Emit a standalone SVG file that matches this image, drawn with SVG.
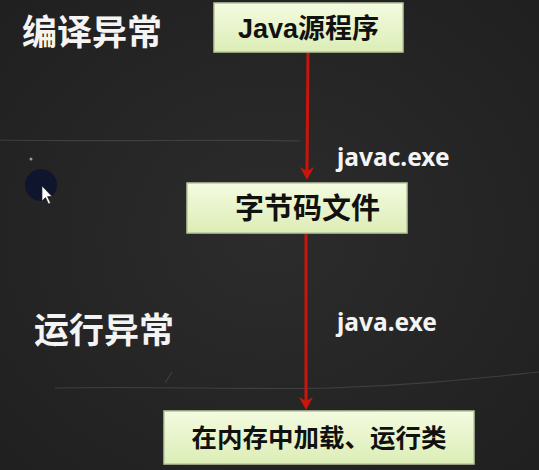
<svg xmlns="http://www.w3.org/2000/svg" width="539" height="470" viewBox="0 0 539 470">
<defs>
<linearGradient id="boxg" x1="0" y1="0" x2="0" y2="1">
<stop offset="0" stop-color="#f4fbe0"/>
<stop offset="1" stop-color="#dcedb6"/>
</linearGradient>
<radialGradient id="bgg" cx="0.5" cy="0.5" r="0.75">
<stop offset="0" stop-color="#2c2c2c"/>
<stop offset="1" stop-color="#1f1f1f"/>
</radialGradient>
<style>
.box{fill:url(#boxg);stroke:#b9c7a0;stroke-width:1.5}
.bt{font-family:"Liberation Sans","Noto Sans CJK SC",sans-serif;font-weight:bold;fill:#111;text-anchor:middle}
.wt{font-family:"Noto Sans","Noto Sans CJK SC",sans-serif;font-weight:bold;fill:#f4f4f4}
.conn{stroke:#c8160c;stroke-width:3;fill:none}
.head{fill:#c8160c}
.chalk{stroke:#4a4a4a;stroke-width:1.2;fill:none;opacity:0.7}
</style>
</defs>
<rect width="539" height="470" fill="url(#bgg)"/>
<path class="chalk" d="M55,388 C150,386 250,390 330,388 C420,385 480,378 539,372"/>
<path class="chalk" d="M165,383 L172,372"/>
<path class="chalk" d="M0,140 C120,142 220,139 300,141" opacity="0.35"/>
<circle cx="41" cy="185" r="16" fill="#0d1330" opacity="0.85"/>
<path d="M42,186 L42,201 L45.5,197.5 L48.5,204 L50.5,203 L47.5,196.5 L52,196.5 Z" fill="#ffffff" stroke="#222" stroke-width="0.6"/>
<circle cx="31" cy="159" r="1.5" fill="#cfcfcf" opacity="0.7"/>

<g id="connectors">
<line class="conn" x1="308" y1="53" x2="307" y2="172"/>
<path class="head" d="M300,167 L307,180 L314,167 L307,171 Z"/>
<line class="conn" x1="306" y1="234" x2="306" y2="402"/>
<path class="head" d="M299,397 L306,410 L313,397 L306,401 Z"/>
</g>

<g id="label-compile">
<text class="wt" x="22" y="45" font-size="35">编译异常</text>
</g>
<g id="label-run">
<text class="wt" x="34" y="343" font-size="35">运行异常</text>
</g>
<g id="label-javac">
<text class="wt" x="337" y="166" font-size="24.5">javac.exe</text>
</g>
<g id="label-java">
<text class="wt" x="337" y="331" font-size="24.5">java.exe</text>
</g>

<g id="node-source">
<rect class="box" x="214" y="3" width="189" height="49"/>
<text class="bt" x="308.5" y="38" font-size="27">Java源程序</text>
</g>
<g id="node-bytecode">
<rect class="box" x="187" y="183" width="220" height="50"/>
<text class="bt" x="307.5" y="219" font-size="29">字节码文件</text>
</g>
<g id="node-run">
<rect class="box" x="164" y="411" width="310" height="53"/>
<text class="bt" x="319" y="447" font-size="25.5">在内存中加载、运行类</text>
</g>
</svg>
